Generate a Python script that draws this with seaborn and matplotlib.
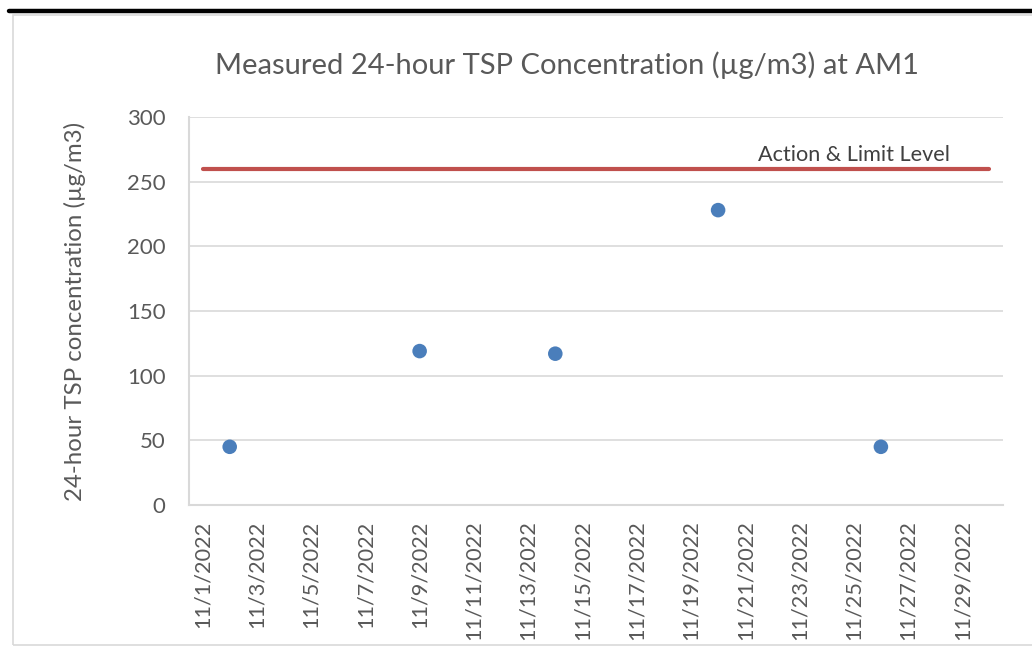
import pandas as pd
import seaborn as sns
import matplotlib.pyplot as plt
import matplotlib.dates as mdates
from matplotlib.lines import Line2D
from matplotlib.patches import Rectangle
from matplotlib.ticker import FuncFormatter

# Data
sample_dates = ["2022-11-02", "2022-11-09", "2022-11-14", "2022-11-20", "2022-11-26"]
tsp_values = [45, 119, 117, 228, 45]
limit_dates = ["2022-11-01", "2022-11-30"]
limit_values = [260, 260]
y_ticks = [0, 50, 100, 150, 200, 250, 300]

samples = pd.DataFrame({"date": pd.to_datetime(sample_dates), "tsp": tsp_values})
limit = pd.DataFrame({"date": pd.to_datetime(limit_dates), "tsp": limit_values})

sns.set_style("white")
plt.rcParams["font.family"] = ["Lato", "DejaVu Sans"]
text_col = "#595959"
grid_col = "#d9d9d9"

fig = plt.figure(figsize=(10.32, 6.53), dpi=100)
ax = fig.add_axes([189 / 1032, 1 - 505 / 653, (1003 - 189) / 1032, (505 - 117) / 653])

sns.lineplot(data=limit, x="date", y="tsp", color="#c0504d", linewidth=3,
             solid_capstyle="round", ax=ax, zorder=3)
sns.scatterplot(data=samples, x="date", y="tsp", color="#4a7ebb", s=110,
                edgecolor="none", ax=ax, zorder=4)

ax.text(pd.Timestamp("2022-11-25 00:00"), 263, "Action & Limit Level",
        fontsize=15.6, color="#404040", ha="center", va="bottom")

# axes
ax.set_ylim(0, 300)
ax.set_yticks(y_ticks)
ax.set_xlim(pd.Timestamp("2022-10-31 12:00"), pd.Timestamp("2022-11-30 12:00"))
ax.xaxis.set_major_locator(mdates.DayLocator(bymonthday=range(1, 31, 2)))
ax.xaxis.set_major_formatter(FuncFormatter(
    lambda v, pos: (lambda d: f"{d.month}/{d.day}/{d.year}")(mdates.num2date(v))))
ax.tick_params(axis="x", rotation=90, length=0, pad=11, labelsize=15.6, colors=text_col)
ax.tick_params(axis="y", length=0, pad=17, labelsize=16, colors=text_col)
ax.grid(axis="y", color=grid_col, linewidth=1.2)
ax.set_axisbelow(True)
for side in ["top", "right"]:
    ax.spines[side].set_visible(False)
for side in ["left", "bottom"]:
    ax.spines[side].set_color(grid_col)
    ax.spines[side].set_linewidth(1.5)
ax.set_xlabel("")
ax.set_ylabel("24-hour TSP concentration (µg/m3)", fontsize=17.3, color=text_col)
ax.yaxis.set_label_coords((86 - 189) / 814, 0.5)

fig.text(567 / 1032, 1 - 65 / 653, "Measured 24-hour TSP Concentration (µg/m3) at AM1",
         fontsize=21, color=text_col, ha="center", va="center")

# chart frame and the black rule above it
fig.add_artist(Rectangle((13 / 1032, 1 - 645 / 653), 1.2, (645 - 15) / 653,
                         transform=fig.transFigure, fill=False, edgecolor=grid_col, linewidth=1.2))
fig.add_artist(Line2D([9 / 1032, 1], [1 - 11 / 653, 1 - 11 / 653],
                      transform=fig.transFigure, color="black", linewidth=3.2))

fig.savefig("out.png", dpi=100)
